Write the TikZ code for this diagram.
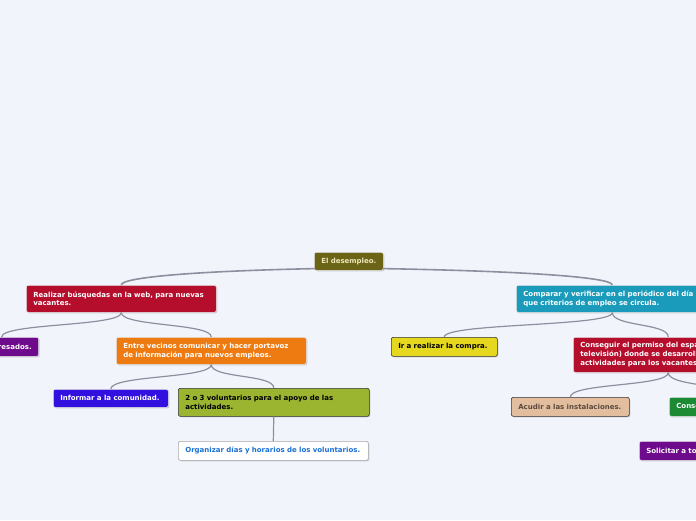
\documentclass[tikz,border=0pt]{standalone}
\usepackage{fontspec}
\setmainfont{DejaVu Sans}
\usetikzlibrary{shadows,calc}
\definecolor{bg}{HTML}{F2F4FC}
\definecolor{rootc}{HTML}{6B6417}
\definecolor{roottext}{HTML}{ECE7B8}
\definecolor{crimson}{HTML}{B50D2C}
\definecolor{orangec}{HTML}{EE7B11}
\definecolor{purplec}{HTML}{6E0A8C}
\definecolor{bluec}{HTML}{3210E0}
\definecolor{olivec}{HTML}{9CB530}
\definecolor{linkblue}{HTML}{1A6FD6}
\definecolor{tealc}{HTML}{1A9BBB}
\definecolor{yellowc}{HTML}{E6D81E}
\definecolor{tanc}{HTML}{E2BE9E}
\definecolor{tantext}{HTML}{5A4A40}
\definecolor{greenc}{HTML}{1B8A32}
\definecolor{connc}{HTML}{8E8E9E}
\begin{document}
\hyphenpenalty=10000
\begin{tikzpicture}[x=1pt,y=-1pt,
  mm/.style={rounded corners=2pt, inner xsep=7pt, inner ysep=0pt, anchor=north west,
    align=left, font=\fontsize{7}{8.8}\selectfont\bfseries,
    draw=white!80!gray, line width=0.6pt,
    drop shadow={shadow xshift=1pt,shadow yshift=-1pt,fill=black!40,opacity=0.45}},
  darkb/.style={draw=black!80},
  conn/.style={draw=connc, line width=1.2pt},
  rootconn/.style={draw=connc, line width=1.6pt}]
\fill[bg] (0,0) rectangle (696,520);
\useasboundingbox (0,0) rectangle (696,520);
\clip (0,0) rectangle (696,520);

% nodes
\node[mm, fill=rootc, text=roottext, inner xsep=3pt, text width=63pt, minimum height=18pt, align=center] (root) at (314,252) {El desempleo.};
\node[mm, fill=crimson, text=white, text width=176pt, minimum height=27pt] (realizar) at (26,285) {Realizar búsquedas en la web, para nuevas\\vacantes.};
\node[mm, fill=purplec, text=white, text width=60pt, minimum height=19pt, anchor=north east, align=right] (interes) at (39,337) {interesados.};
\node[mm, fill=orangec, text=white, text width=176pt, minimum height=27pt] (entre) at (116,337) {Entre vecinos comunicar y hacer portavoz\\de información para nuevos empleos.};
\node[mm, fill=bluec, text=white, text width=101pt, minimum height=18pt] (informar) at (53,389) {Informar a la comunidad.};
\node[mm, darkb, fill=olivec, text=black, text width=177pt, minimum height=28pt] (volunt) at (178,388) {2 o 3 voluntarios para el apoyo de las\\actividades.};
\node[mm, draw=black!35, fill=white, text=linkblue, text width=176pt, minimum height=19pt] (organizar) at (178,441) {Organizar días y horarios de los voluntarios.};

\node[mm, fill=tealc, text=white, text width=178pt, minimum height=27pt] (comparar) at (516,285) {Comparar y verificar en el periódico del día\\que criterios de empleo se circula.};
\node[mm, darkb, fill=yellowc, text=black, text width=92pt, minimum height=19pt] (compra) at (391,337) {Ir a realizar la compra.};
\node[mm, fill=crimson, text=white, text width=176pt, minimum height=35pt] (conseguir) at (573,337) {Conseguir el permiso del espacio (radio\\televisión) donde se desarrollarán\\actividades para los vacantes.};
\node[mm, darkb, fill=tanc, text=tantext, text width=104pt, minimum height=19pt] (acudir) at (511,397) {Acudir a las instalaciones.};
\node[mm, fill=greenc, text=white, text width=110pt, minimum height=19pt] (cons) at (669,397) {Conseguir el material.};
\node[mm, fill=purplec, text=white, text width=150pt, minimum height=19pt] (solicitar) at (639,441) {Solicitar a todos los vecinos.};

% connectors
\draw[rootconn] ($(root.south west)+(1,-2)$) .. controls (200,271) and ($(realizar.north)+(0,-8)$) .. (realizar.north);
\draw[rootconn] ($(root.south east)+(-1,-2)$) .. controls (520,271) and ($(comparar.north)+(0,-8)$) .. (comparar.north);

\draw[conn] (realizar.south) .. controls +(0,14) and +(0,-14) .. (interes.north);
\draw[conn] (realizar.south) .. controls +(0,14) and +(0,-14) .. (entre.north);
\draw[conn] (entre.south) .. controls +(0,14) and +(0,-14) .. (informar.north);
\draw[conn] (entre.south) .. controls +(0,14) and +(0,-14) .. (volunt.north);
\draw[conn] (volunt.south) -- (organizar.north);

\draw[conn] (comparar.south) .. controls +(0,14) and +(0,-14) .. (compra.north);
\draw[conn] (comparar.south) .. controls +(0,14) and +(0,-14) .. (conseguir.north);
\draw[conn] (conseguir.south) .. controls +(0,14) and +(0,-14) .. (acudir.north);
\draw[conn] (conseguir.south) .. controls +(0,14) and +(0,-14) .. (cons.north);
\draw[conn] (cons.south) .. controls +(0,14) and +(0,-14) .. (solicitar.north);
\end{tikzpicture}
\end{document}
